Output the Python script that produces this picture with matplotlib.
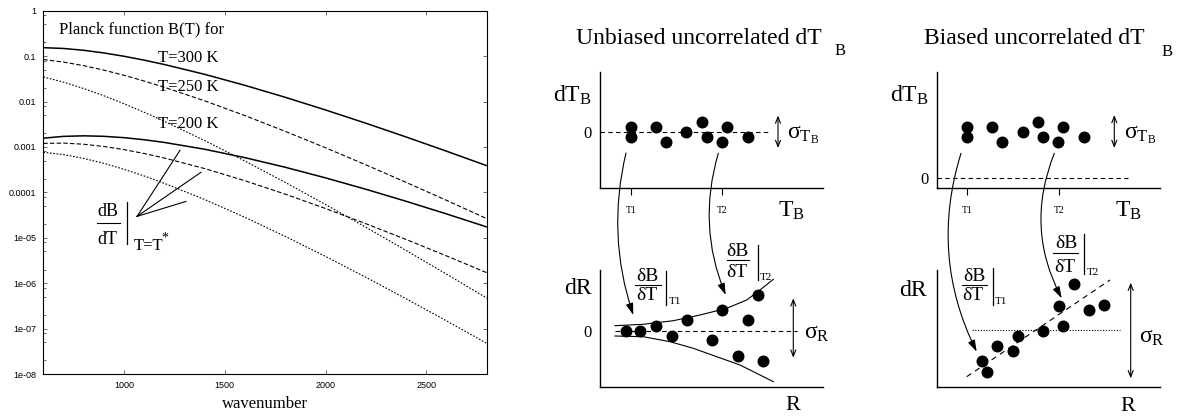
import matplotlib
matplotlib.use('Agg')
import matplotlib.pyplot as plt
from matplotlib.patches import FancyArrowPatch
from matplotlib.lines import Line2D
from matplotlib.ticker import LogLocator, NullFormatter

plt.rcParams['font.family'] = ['Liberation Serif', 'DejaVu Serif']
plt.rcParams['mathtext.fontset'] = 'custom'
plt.rcParams['mathtext.rm'] = 'Liberation Serif'
plt.rcParams['mathtext.it'] = 'Liberation Serif:italic'
plt.rcParams['mathtext.bf'] = 'Liberation Serif:bold'

# ---------------- data: Planck panel ----------------
wavenumber = [600, 700, 800, 900, 1000, 1100, 1200, 1400, 1600, 1800, 2000, 2200, 2400, 2600, 2800]
B_300 = [0.1534, 0.1474, 0.1344, 0.1175, 0.09923, 0.0815, 0.06537, 0.0397, 0.02269, 0.01238,
         0.006506, 0.003319, 0.001651, 0.000804, 0.000385]
B_250 = [0.08407, 0.07403, 0.06166, 0.04916, 0.03783, 0.02828, 0.02063, 0.010356, 0.004889,
         0.002202, 0.0009552, 0.0004022, 0.0001651, 6.641e-5, 2.624e-5]
B_200 = [0.0348, 0.02673, 0.01937, 0.01341, 0.008952, 0.0058, 0.003668, 0.001381, 0.0004891,
         0.0001652, 5.375e-5, 1.697e-5, 5.226e-6, 1.576e-6, 4.67e-7]
dBdT_300 = [0.001559, 0.001709, 0.001757, 0.001713, 0.0016, 0.001441, 0.001258, 0.0008896,
            0.0005806, 0.0003563, 0.000208, 0.0001167, 6.334e-5, 3.342e-5, 1.723e-5]
dBdT_250 = [0.001199, 0.001215, 0.001147, 0.001024, 0.0008736, 0.0007175, 0.0005705, 0.0003339,
            0.0001801, 9.125e-5, 4.398e-5, 2.037e-5, 9.122e-6, 3.975e-6, 1.691e-6]
dBdT_200 = [0.0007612, 0.0006775, 0.0005592, 0.0004348, 0.0003222, 0.0002296, 0.0001583,
            6.954e-5, 2.815e-5, 1.07e-5, 3.867e-6, 1.343e-6, 4.511e-7, 1.474e-7, 4.704e-8]
ytick_vals = [1, 0.1, 0.01, 0.001, 0.0001, 1e-5, 1e-6, 1e-7, 1e-8]
ytick_labels = ['1', '0.1', '0.01', '0.001', '0.0001', '1e-05', '1e-06', '1e-07', '1e-08']
xtick_vals = [1000, 1500, 2000, 2500]
temp_labels = ['T=300 K', 'T=250 K', 'T=200 K']

# ---------------- data: schematic panels ----------------
unb_top_TB = [3.07, 3.07, 5.57, 6.6, 8.6, 10.17, 10.67, 12.73, 12.2, 14.77]
unb_top_dT = [0.53, -0.53, 0.53, -1.03, 0.0, 1.03, -0.47, 0.53, -1.03, -0.5]
unb_bot_R = [2.57, 4.0, 5.57, 7.17, 8.67, 11.17, 12.23, 13.77, 14.77, 15.77, 16.27]
unb_bot_dR = [0.03, 0.03, 0.53, -0.5, 1.1, -0.9, 2.1, -2.5, 1.1, 3.6, -3.0]
env_upper_R = [1.5, 4.33, 7.33, 10.0, 12.67, 14.67, 16.0, 17.33]
env_upper = [0.53, 0.67, 1.03, 1.6, 2.27, 3.1, 4.1, 5.17]
env_lower_R = [1.5, 4.33, 7.0, 9.33, 11.67, 14.0, 16.0, 17.33]
env_lower = [-0.5, -0.57, -1.07, -1.73, -2.57, -3.4, -4.4, -5.07]

bia_top_TB = [3.0, 3.0, 5.56, 6.56, 8.6, 10.16, 10.6, 12.66, 12.16, 14.76]
bia_top_dT = [5.1, 4.04, 5.1, 3.54, 4.57, 5.6, 4.1, 5.1, 3.54, 4.1]
bia_bot_R = [4.56, 5.06, 6.06, 7.6, 8.1, 10.6, 12.66, 12.2, 13.73, 15.26, 16.76]
bia_bot_dR = [-3.0, -4.07, -1.5, -1.97, -0.5, 0.03, 0.53, 2.53, 4.67, 2.1, 2.6]
fit_R = [3.0, 17.33]
fit_dR = [-4.57, 5.1]

unb_T12 = [3.07, 12.2]
bia_T12 = [3.0, 12.2]
T12_labels = ['T1', 'T2']

W, H = 1181, 419
fig = plt.figure(figsize=(W / 100, H / 100), dpi=100)


def P(x, y):
    return (x / W, 1 - y / H)


def ftext(x, y, s, size, ha='left', va='center', **kw):
    fig.text(x / W, 1 - y / H, s, fontsize=size, ha=ha, va=va, **kw)


def fline(xs, ys, lw=0.9):
    fig.add_artist(Line2D([x / W for x in xs], [1 - y / H for y in ys],
                          transform=fig.transFigure, color='black', lw=lw))


# ================= Left panel =================
ax = fig.add_axes([43.3 / W, 1 - 374 / H, (487 - 43.3) / W, (374 - 10.7) / H])
ax.set_yscale('log')
ax.plot(wavenumber, B_300, color='black', lw=1.1)
ax.plot(wavenumber, B_250, color='black', lw=0.8, ls=(0, (4, 2)))
ax.plot(wavenumber, B_200, color='black', lw=0.8, ls=(0, (1.5, 1.5)))
ax.plot(wavenumber, dBdT_300, color='black', lw=1.1)
ax.plot(wavenumber, dBdT_250, color='black', lw=0.8, ls=(0, (4, 2)))
ax.plot(wavenumber, dBdT_200, color='black', lw=0.8, ls=(0, (1.5, 1.5)))
ax.set_xlim(600, 2800)
ax.set_ylim(1e-8, 1)
ax.set_yticks(ytick_vals)
ax.set_yticklabels(ytick_labels)
ax.yaxis.set_minor_locator(LogLocator(base=10, subs=(2.0, 5.0, 8.0), numticks=20))
ax.yaxis.set_minor_formatter(NullFormatter())
ax.set_xticks(xtick_vals)
ax.set_xticklabels([str(v) for v in xtick_vals])
ax.tick_params(which='major', direction='in', length=3, width=0.6, top=True, right=True,
               labelsize=6.5, pad=5, color='#555555')
ax.tick_params(which='minor', direction='in', length=1.8, width=0.6, left=True, right=False,
               color='#555555')
for lab in ax.get_xticklabels() + ax.get_yticklabels():
    lab.set_family('Liberation Sans')
for s in ax.spines.values():
    s.set_linewidth(0.8)
ax.set_xlabel('wavenumber', fontsize=12, labelpad=4)

ax.text((59.3 - 43.3) / 443.7, 1 - (29 - 10.7) / 363.3, 'Planck function B(T) for',
        transform=ax.transAxes, fontsize=12, va='center')
for lab, yy in zip(temp_labels, [58, 87, 123.7]):
    ax.text((158 - 43.3) / 443.7, 1 - (yy - 10.7) / 363.3, lab, transform=ax.transAxes,
            fontsize=12, va='center')
origin = (1065, 2.96e-5)
for tgt in [(1278, 8.45e-4), (1382, 2.77e-4), (1307, 6.3e-5)]:
    ax.plot([origin[0], tgt[0]], [origin[1], tgt[1]], color='black', lw=0.8)

ftext(107.8, 211, 'dB', 13, ha='center')
fline([97.3, 120], [223.3, 223.3], lw=0.8)
ftext(107.5, 239, 'dT', 13, ha='center')
fline([127.3, 127.3], [201.7, 244], lw=0.9)
ftext(134, 246, 'T=T', 12)
ftext(161.5, 238, '*', 10)


# ================= Schematic panels =================
def schem_ax(left, top, right, bottom, xlim, ylim):
    a = fig.add_axes([left / W, 1 - bottom / H, (right - left) / W, (bottom - top) / H])
    a.set_xlim(xlim)
    a.set_ylim(ylim)
    a.patch.set_alpha(0)
    a.spines['top'].set_visible(False)
    a.spines['right'].set_visible(False)
    a.spines['left'].set_linewidth(1.0)
    a.spines['bottom'].set_linewidth(1.0)
    a.set_xticks([])
    a.set_yticks([])
    return a


def dots(a, x, y):
    a.plot(x, y, 'o', color='black', ms=7.6, clip_on=False)


def darrow(a, x, y0, y1):
    a.add_patch(FancyArrowPatch((x, y0), (x, y1), arrowstyle='<->,head_length=0.45,head_width=0.18',
                                mutation_scale=10, lw=0.8, color='black',
                                shrinkA=0, shrinkB=0, clip_on=False))


def set_T_ticks(a, pos):
    a.set_xticks(pos)
    a.set_xticklabels(T12_labels)
    a.tick_params(axis='x', direction='out', length=5, width=0.8, labelsize=7, pad=8)


def zero_label(a):
    a.set_yticks([0])
    a.set_yticklabels(['0'])
    a.tick_params(axis='y', length=0, labelsize=12, pad=6)


# ---- middle: unbiased ----
mt = schem_ax(600, 72, 823, 188, (0, 22.3), (-5.6, 6.0))
mt.plot([0, 17.0], [0, 0], color='black', lw=0.8, ls=(0, (4, 3)))
dots(mt, unb_top_TB, unb_top_dT)
set_T_ticks(mt, unb_T12)
zero_label(mt)
darrow(mt, 17.8, 1.65, -1.6)

mb = schem_ax(600, 270, 823, 386.7, (0, 22.3), (-5.57, 6.1))
mb.plot([1.5, 19.7], [0, 0], color='black', lw=0.8, ls=(0, (4, 3)))
mb.plot(env_upper_R, env_upper, color='black', lw=0.8)
mb.plot(env_lower_R, env_lower, color='black', lw=0.8)
dots(mb, unb_bot_R, unb_bot_dR)
zero_label(mb)
darrow(mb, 19.33, 3.27, -2.67)

# ---- right: biased ----
rt = schem_ax(936.7, 71.7, 1160, 188.3, (0, 22.33), (-1.06, 10.6))
rt.plot([0, 19.16], [0, 0], color='black', lw=0.8, ls=(0, (4, 3)))
dots(rt, bia_top_TB, bia_top_dT)
set_T_ticks(rt, bia_T12)
zero_label(rt)
darrow(rt, 17.76, 6.27, 2.97)

rb = schem_ax(936.7, 270, 1160, 386.7, (0, 22.33), (-5.57, 6.1))
rb.plot([3.5, 18.33], [0.1, 0.1], color='black', lw=0.8, ls=(0, (1, 1.5)))
rb.plot(fit_R, fit_dR, color='black', lw=0.8, ls=(0, (5, 4)))
dots(rb, bia_bot_R, bia_bot_dR)
darrow(rb, 19.4, 4.83, -4.73)

# ---- titles and labels ----
ftext(699, 38, 'Unbiased uncorrelated dT', 17, ha='center')
ftext(840, 51, 'B', 12, ha='center')
ftext(1034, 38, 'Biased uncorrelated dT', 17, ha='center')
ftext(1167, 52, 'B', 12, ha='center')

ftext(553, 95, r'$\mathrm{dT_B}$', 17)
ftext(890, 95, r'$\mathrm{dT_B}$', 17)
ftext(778, 211, r'$\mathrm{T_B}$', 17)
ftext(1114.7, 211, r'$\mathrm{T_B}$', 17)
ftext(564, 289, 'dR', 17)
ftext(899, 290, 'dR', 17)
ftext(785, 405, 'R', 16)
ftext(1120, 406, 'R', 16)
ftext(787, 135, r'$\mathrm{σ_{T_B}}$', 17)
ftext(1124, 135, r'$\mathrm{σ_{T_B}}$', 17)
ftext(804, 333, r'$\mathrm{σ_R}$', 17)
ftext(1139, 337, r'$\mathrm{σ_R}$', 17)


def frac(cx, ytop, yline, ybot, xl, xr, xbar, ybar0, ybar1, lab, xlab, ylab):
    ftext(cx, ytop, 'δB', 14, ha='center')
    fline([xl, xr], [yline, yline], lw=0.8)
    ftext(cx - 1, ybot, 'δT', 14, ha='center')
    fline([xbar, xbar], [ybar0, ybar1], lw=0.9)
    ftext(xlab, ylab, lab, 8)


frac(647.5, 276, 284.5, 295, 635, 660.7, 666, 271, 305, 'T1', 669, 302)
frac(737.5, 251, 260, 272.5, 726.7, 749.3, 757.5, 245, 280, 'T2', 760, 277)
frac(974, 276, 284.5, 295, 961.7, 987, 992.5, 268, 305, 'T1', 995, 302)
frac(1066, 243, 253, 268, 1053, 1078, 1083.5, 234, 274, 'T2', 1087, 272)


# ---- curved arrows ----
def carrow(p0, p1, rad):
    fig.add_artist(FancyArrowPatch(P(*p0), P(*p1), transform=fig.transFigure,
                                   connectionstyle='arc3,rad=%g' % rad,
                                   arrowstyle='-|>,head_length=0.7,head_width=0.22',
                                   mutation_scale=10, lw=0.8, color='black',
                                   shrinkA=0, shrinkB=0))


carrow((626, 153), (633.3, 315), 0.143)
carrow((718.3, 153.3), (725.7, 295), 0.176)
carrow((961, 153.3), (976.7, 351.7), 0.2)
carrow((1054.3, 153.3), (1061.7, 298.3), 0.23)

fig.savefig('out.png', dpi=100)
